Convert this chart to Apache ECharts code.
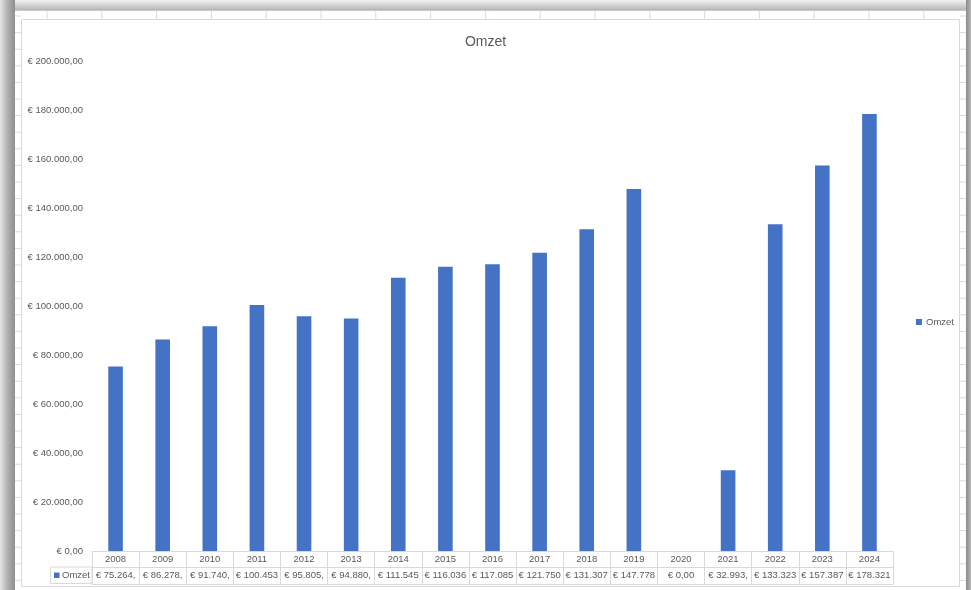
<!DOCTYPE html>
<html>
<head>
<meta charset="utf-8">
<script src="https://cdn.jsdelivr.net/npm/echarts@6/dist/echarts.min.js"></script>
<style>
  html, body { margin: 0; padding: 0; background: #ffffff; }
  #chart { width: 971px; height: 590px; }
</style>
</head>
<body>
<div id="chart"></div>
<script>
// ---- data ----
const years = ['2008','2009','2010','2011','2012','2013','2014','2015','2016','2017','2018','2019','2020','2021','2022','2023','2024'];
const omzet = [75264, 86278, 91740, 100453, 95805, 94880, 111545, 116036, 117085, 121750, 131307, 147778, 0, 32993, 133323, 157387, 178321];
const seriesName = 'Omzet';
const chartTitle = 'Omzet';
const yMin = 0, yMax = 200000, yStep = 20000;

// ---- helpers ----
function euro(v) {
  const int = Math.round(Math.floor(v)).toString().replace(/\B(?=(\d{3})+(?!\d))/g, '.');
  return '€ ' + int + ',00';
}
function cellText(v) {
  const s = euro(v);
  return s.length > 9 ? s.slice(0, 9) : s;
}

const FONT = "'Liberation Sans', Arial, sans-serif";
const TXT = '#595959';
const LINE = '#d9d9d9';
const BLUE = '#4472C4';

// ---- decorative spreadsheet frame ----
const deco = [];
deco.push({ type: 'rect', z: -20, shape: { x: 0, y: 0, width: 971, height: 590 }, style: { fill: '#ffffff' } });
for (let x = 47; x < 971; x += 54.8) {
  deco.push({ type: 'line', z: -19, shape: { x1: x, y1: 9, x2: x, y2: 19 }, style: { stroke: '#dadada', lineWidth: 1 } });
}
for (let y = 16; y < 590; y += 16.6) {
  deco.push({ type: 'line', z: -19, shape: { x1: 15, y1: y, x2: 21, y2: y }, style: { stroke: '#dadada', lineWidth: 1 } });
  deco.push({ type: 'line', z: -19, shape: { x1: 960, y1: y, x2: 966, y2: y }, style: { stroke: '#dadada', lineWidth: 1 } });
}
deco.push({ type: 'line', z: -19, shape: { x1: 15, y1: 10.5, x2: 966, y2: 10.5 }, style: { stroke: '#c8c8c8', lineWidth: 1 } });
deco.push({ type: 'rect', z: -18, shape: { x: 0, y: 0, width: 971, height: 10 },
  style: { fill: new echarts.graphic.LinearGradient(0, 0, 0, 1, [{ offset: 0, color: '#f2f2f2' }, { offset: 1, color: '#b5b5b5' }]) } });
deco.push({ type: 'rect', z: -17, shape: { x: 0, y: 0, width: 15, height: 590 },
  style: { fill: new echarts.graphic.LinearGradient(0, 0, 1, 0, [{ offset: 0, color: '#e6e6e6' }, { offset: 0.5, color: '#b0b0b0' }, { offset: 1, color: '#8e8e8e' }]) } });
deco.push({ type: 'rect', z: -17, shape: { x: 966, y: 0, width: 5, height: 590 },
  style: { fill: new echarts.graphic.LinearGradient(0, 0, 1, 0, [{ offset: 0, color: '#8a8a8a' }, { offset: 1, color: '#b8b8b8' }]) } });
deco.push({ type: 'rect', z: -16, shape: { x: 21.5, y: 19.5, width: 938, height: 567 }, style: { fill: '#ffffff', stroke: LINE, lineWidth: 1 } });
// legend-key cell of the data table
deco.push({ type: 'rect', z: 5, shape: { x: 50.5, y: 567, width: 41.5, height: 16.5 }, style: { fill: 'none', stroke: LINE, lineWidth: 1 } });
deco.push({ type: 'rect', z: 5, shape: { x: 54, y: 572.5, width: 5.5, height: 5.5 }, style: { fill: BLUE } });
deco.push({ type: 'text', z: 5, style: { x: 62, y: 575.5, text: seriesName, fill: TXT, font: '9.5px ' + FONT, textVerticalAlign: 'middle' } });

const chart = echarts.init(document.getElementById('chart'));
chart.setOption({
  animation: false,
  backgroundColor: 'transparent',
  graphic: deco,
  title: {
    text: chartTitle, left: 'center', top: 30,
    textStyle: { color: TXT, fontSize: 14, fontWeight: 'normal', fontFamily: FONT }
  },
  legend: {
    data: [seriesName], left: 911, top: 312, icon: 'rect', itemWidth: 6, itemHeight: 6, itemGap: 4,
    textStyle: { color: TXT, fontSize: 9.5, fontFamily: FONT, padding: [0, 0, 0, -1] }
  },
  grid: { left: 92, right: 78, top: 61, bottom: 39, containLabel: false },
  xAxis: [
    {
      type: 'category', data: years, position: 'bottom', boundaryGap: true,
      axisLine: { show: true, lineStyle: { color: LINE } },
      axisTick: { show: true, length: 33, alignWithLabel: false, lineStyle: { color: LINE } },
      axisLabel: { interval: 0, margin: 3, color: TXT, fontSize: 9.5, fontFamily: FONT }
    },
    {
      type: 'category', data: years, position: 'bottom', offset: 16, boundaryGap: true,
      axisLine: { show: true, lineStyle: { color: LINE } },
      axisTick: { show: false },
      axisLabel: { interval: 0, margin: 3.5, color: TXT, fontSize: 9.5, fontFamily: FONT,
        formatter: (v, i) => cellText(omzet[i]) }
    },
    {
      type: 'category', data: years, position: 'bottom', offset: 33, boundaryGap: true,
      axisLine: { show: true, lineStyle: { color: LINE } },
      axisTick: { show: false },
      axisLabel: { show: false }
    }
  ],
  yAxis: {
    type: 'value', min: yMin, max: yMax, interval: yStep,
    axisLine: { show: false }, axisTick: { show: false }, splitLine: { show: false },
    axisLabel: { margin: 9, color: TXT, fontSize: 9.5, fontFamily: FONT, formatter: v => euro(v) }
  },
  series: [{
    name: seriesName, type: 'bar', xAxisIndex: 0, data: omzet, barWidth: '31%',
    itemStyle: { color: BLUE }
  }]
});
</script>
</body>
</html>
